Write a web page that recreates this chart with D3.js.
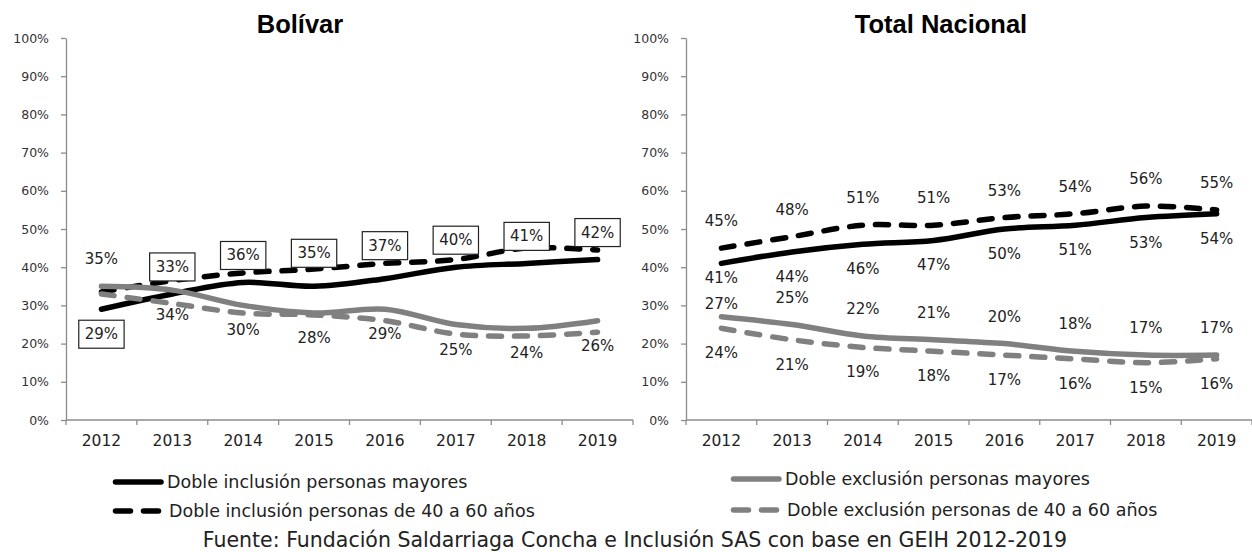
<!DOCTYPE html>
<html>
<head>
<meta charset="utf-8">
<script src="https://cdn.jsdelivr.net/npm/d3@7"></script>
<style>
  body { margin: 0; background: #fff; }
  svg { display: block; }
  text { font-family: "DejaVu Sans", sans-serif; fill: #222; }
</style>
</head>
<body>
<svg id="chart" width="1252" height="552"></svg>
<script>
// data
const years = ["2012", "2013", "2014", "2015", "2016", "2017", "2018", "2019"];
const yTicks = [0, 0.1, 0.2, 0.3, 0.4, 0.5, 0.6, 0.7, 0.8, 0.9, 1];

const bolInclMay   = [29, 33, 36, 35, 37, 40, 41, 42];
const bolIncl4060  = [33.5, 36.5, 38.5, 39.5, 41, 42, 45, 44.5];
const bolExclMay   = [35, 34, 30, 28, 29, 25, 24, 26];
const bolExcl4060  = [33, 30.5, 28, 27.5, 26, 22.5, 22, 23];

const nacInclMay   = [41, 44, 46, 47, 50, 51, 53, 54];
const nacIncl4060  = [45, 48, 51, 51, 53, 54, 56, 55];
const nacExclMay   = [27, 25, 22, 21, 20, 18, 17, 17];
const nacExcl4060  = [24, 21, 19, 18, 17, 16, 15, 16];

// where each label sits relative to its point
const bolInclMayPos = ["below", "above", "above", "above-far", "above-far", "above", "above", "above"];
const bolExclMayPos = ["above", "below", "below", "below", "below", "below", "below", "below"];
const nacInclMayPos = ["below-near", "below", "below", "below", "below", "below", "below", "below"];
const nacExclMayPos = ["above-near", "above", "above", "above", "above", "above", "above", "above"];

const legendIncl = ["Doble inclusión personas mayores", "Doble inclusión personas de 40 a 60 años"];
const legendExcl = ["Doble exclusión personas mayores", "Doble exclusión personas de 40 a 60 años"];

const SOURCE = "Fuente: Fundación Saldarriaga Concha e Inclusión SAS con base en GEIH 2012-2019";

const BLACK = "#000";
const GRAY  = "#808080";
const TOP = 38, BOTTOM = 420;
const LW = 5.5;
const DASH = "13,13";
const OFFSET = { "above": -27, "below": 25, "above-near": -13, "below-near": 15, "above-far": -33 };

const svg = d3.select("#chart");
const y = d3.scaleLinear().domain([0, 1]).range([BOTTOM, TOP]);

const smooth = d3.line().curve(d3.curveCatmullRom.alpha(0.5));

function drawPanel(p) {
  const g = svg.append("g");
  const x = d3.scaleBand().domain(years).range([p.x0, p.x1]);
  const cx = d => x(d) + x.bandwidth() / 2;

  // title
  g.append("text")
    .attr("x", p.titleX).attr("y", 33)
    .attr("text-anchor", "middle")
    .style("font-family", "'Liberation Sans', Arial, sans-serif")
    .style("font-weight", "bold")
    .style("font-size", "25.5px")
    .style("fill", "#000")
    .text(p.title);

  // y axis
  const ya = g.append("g")
    .attr("transform", `translate(${p.x0},0)`)
    .call(d3.axisLeft(y).tickValues(yTicks).tickFormat(d3.format(".0%"))
      .tickSize(5).tickSizeOuter(0).tickPadding(12));
  ya.selectAll("path, line").attr("stroke", "#8c8c8c").attr("stroke-width", 1.3);
  ya.selectAll("text").style("font-size", "12.5px").style("fill", "#333")
    .style("font-family", "'DejaVu Sans', sans-serif");

  // x axis: baseline + ticks between categories
  g.append("line")
    .attr("x1", p.x0).attr("x2", p.x1)
    .attr("y1", BOTTOM).attr("y2", BOTTOM)
    .attr("stroke", "#8c8c8c").attr("stroke-width", 1.3);
  const edges = years.map(d => x(d)).concat([x(years[years.length - 1]) + x.bandwidth()]);
  g.selectAll("line.xt").data(edges).enter().append("line")
    .attr("class", "xt")
    .attr("x1", d => d).attr("x2", d => d)
    .attr("y1", BOTTOM).attr("y2", BOTTOM + 5)
    .attr("stroke", "#8c8c8c").attr("stroke-width", 1.3);
  g.selectAll("text.yr").data(years).enter().append("text")
    .attr("class", "yr")
    .attr("x", cx).attr("y", BOTTOM + 26)
    .attr("text-anchor", "middle")
    .style("font-size", "15.5px")
    .text(d => d);

  // lines
  p.series.forEach(s => {
    g.append("path")
      .attr("d", smooth(s.values.map((v, i) => [cx(years[i]), y(v / 100)])))
      .attr("fill", "none")
      .attr("stroke", s.color)
      .attr("stroke-width", LW)
      .attr("stroke-linecap", "round")
      .attr("stroke-linejoin", "round")
      .attr("stroke-dasharray", s.dashed ? DASH : null);
  });

  // labels
  p.series.filter(s => s.pos).forEach(s => {
    s.values.forEach((v, i) => {
      const pos = Array.isArray(s.pos) ? s.pos[i] : s.pos;
      const ly = y(v / 100) + OFFSET[pos];
      const lx = cx(years[i]);
      const lg = g.append("g");
      const t = lg.append("text")
        .attr("x", lx).attr("y", ly)
        .attr("text-anchor", "middle")
        .attr("dominant-baseline", "central")
        .style("font-size", "15px")
        .text(Math.round(v) + "%");
      if (s.boxed) {
        const b = t.node().getBBox();
        lg.insert("rect", "text")
          .attr("x", b.x - 6).attr("y", b.y - 5)
          .attr("width", b.width + 12).attr("height", b.height + 10)
          .attr("fill", "#fff")
          .attr("stroke", "#222").attr("stroke-width", 1.2);
      }
    });
  });

  // legend
  p.legend.forEach((l, i) => {
    const ly = p.legendY[i];
    g.append("line")
      .attr("x1", p.legendX + 2.5).attr("x2", p.legendX + 48)
      .attr("y1", ly).attr("y2", ly)
      .attr("stroke", p.legendColor)
      .attr("stroke-width", LW)
      .attr("stroke-linecap", "round")
      .attr("stroke-dasharray", i === 1 ? "15,13" : null);
    g.append("text")
      .attr("x", p.legendX + 54 + (i === 1 ? 2 : 0)).attr("y", ly + 6)
      .style("font-size", "17.5px")
      .text(l);
  });
}

drawPanel({
  title: "Bolívar", titleX: 300,
  x0: 66, x1: 633,
  series: [
    { values: bolInclMay,  color: BLACK, dashed: false, pos: bolInclMayPos, boxed: true },
    { values: bolIncl4060, color: BLACK, dashed: true },
    { values: bolExclMay,  color: GRAY,  dashed: false, pos: bolExclMayPos },
    { values: bolExcl4060, color: GRAY,  dashed: true }
  ],
  legend: legendIncl, legendColor: BLACK, legendX: 113, legendY: [482, 511]
});

drawPanel({
  title: "Total Nacional", titleX: 941,
  x0: 686, x1: 1252,
  series: [
    { values: nacInclMay,  color: BLACK, dashed: false, pos: nacInclMayPos },
    { values: nacIncl4060, color: BLACK, dashed: true,  pos: "above" },
    { values: nacExclMay,  color: GRAY,  dashed: false, pos: nacExclMayPos },
    { values: nacExcl4060, color: GRAY,  dashed: true,  pos: "below" }
  ],
  legend: legendExcl, legendColor: GRAY, legendX: 731, legendY: [479, 510]
});

svg.append("text")
  .attr("x", 635).attr("y", 547)
  .attr("text-anchor", "middle")
  .style("font-size", "20.5px")
  .text(SOURCE);
</script>
</body>
</html>
